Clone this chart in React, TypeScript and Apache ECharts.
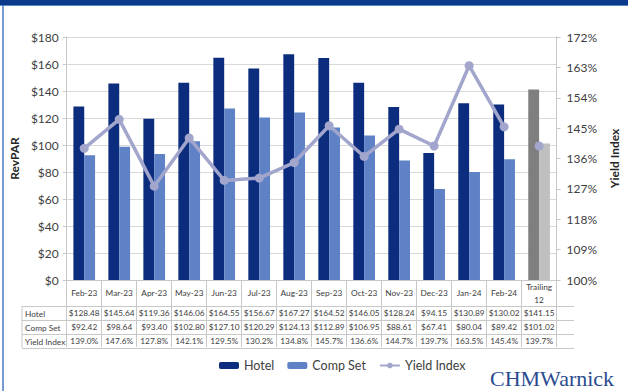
import React, { useEffect, useRef } from "react";
import * as echarts from "echarts";

const categories = ["Feb-23", "Mar-23", "Apr-23", "May-23", "Jun-23", "Jul-23", "Aug-23", "Sep-23", "Oct-23", "Nov-23", "Dec-23", "Jan-24", "Feb-24", "Trailing 12"];
const hotel = [128.48, 145.64, 119.36, 146.06, 164.55, 156.67, 167.27, 164.52, 146.05, 128.24, 94.15, 130.89, 130.02, 141.15];
const compSet = [92.42, 98.64, 93.4, 102.8, 127.1, 120.29, 124.13, 112.89, 106.95, 88.61, 67.41, 80.04, 89.42, 101.02];
const yieldIndex = [139.0, 147.6, 127.8, 142.1, 129.5, 130.2, 134.8, 145.7, 136.6, 144.7, 139.7, 163.5, 145.4, 139.7];
const rowLabels = ["Hotel", "Comp Set", "Yield Index"];

const YIELD_BASE = 100;
const GRID_LEFT = 65;
const GRID_RIGHT = 54;
const GRID_TOP = 37;
const GRID_BOTTOM_Y = 280;
const W = 628;
const H = 391;

const FONT = "Lato, 'Open Sans', sans-serif";
const TEXT = "#404040";
const LINE = "#c8c8c8";
const TBL = 8.3;

export default function App() {
  const ref = useRef<HTMLDivElement>(null);
  useEffect(() => {
    if (!ref.current) return;
    const chart = echarts.init(ref.current, null, { renderer: "svg" });
    const last = categories.length - 1;
    const hotelData = hotel.map((v, i) =>
      i === last ? { value: v, itemStyle: { color: "#7f7f7f" } } : v
    );
    const compData = compSet.map((v, i) =>
      i === last ? { value: v, itemStyle: { color: "#bfbfbf" } } : v
    );
    const lineData = yieldIndex.map((v, i) => (i === last ? "-" : +(v - YIELD_BASE).toFixed(2)));
    const trailingData = yieldIndex.map((v, i) => (i === last ? +(v - YIELD_BASE).toFixed(2) : "-"));

    const rowTop = GRID_BOTTOM_Y + 26;
    const rowH = 14;
    const tableLeft = 22;
    const tableRight = W - GRID_RIGHT;
    const graphics: any[] = [
      { type: "rect", shape: { x: 0, y: 0, width: W, height: 5 }, style: { fill: "#0b3a8a" } },
      { type: "line", shape: { x1: 0, y1: 5.5, x2: W, y2: 5.5 }, style: { stroke: "#5d86c9", lineWidth: 1 } },
      { type: "line", shape: { x1: 3, y1: 5, x2: 3, y2: H }, style: { stroke: "#4a78c0", lineWidth: 1.5 } },
      { type: "line", shape: { x1: tableLeft, y1: rowTop, x2: tableLeft, y2: rowTop + rowH * 3 }, style: { stroke: LINE, lineWidth: 1 } },
    ];
    for (let r = 0; r <= 3; r++) {
      const y = rowTop + r * rowH + 0.5;
      graphics.push({ type: "line", shape: { x1: tableLeft, y1: y, x2: tableRight, y2: y }, style: { stroke: LINE, lineWidth: 1 } });
    }
    rowLabels.forEach((t, r) => {
      graphics.push({
        type: "text",
        x: tableLeft + 3,
        y: rowTop + r * rowH + rowH / 2 + 0.5,
        style: { text: t, fill: TEXT, font: `${TBL}px ${FONT}`, verticalAlign: "middle", align: "left" },
      });
    });
    graphics.push({
      type: "text",
      x: 490,
      y: 378,
      style: {
        text: "CHMWarnick",
        fill: "#2b4b8f",
        font: "22px 'Liberation Serif', 'DejaVu Serif', serif",
        verticalAlign: "middle",
        align: "left",
      },
    });

    chart.setOption({
      animation: false,
      backgroundColor: "#ffffff",
      textStyle: { fontFamily: FONT },
      grid: { left: GRID_LEFT, right: GRID_RIGHT, top: GRID_TOP, bottom: H - GRID_BOTTOM_Y, containLabel: false },
      legend: {
        data: ["Hotel", "Comp Set", "Yield Index"],
        left: 214,
        top: 354,
        itemWidth: 20,
        itemHeight: 7,
        itemGap: 13,
        textStyle: { color: TEXT, fontSize: 12.5, fontFamily: FONT },
      },
      xAxis: {
        type: "category",
        data: categories,
        axisLine: { show: true, lineStyle: { color: LINE } },
        axisTick: { show: true, length: 67, lineStyle: { color: LINE } },
        axisLabel: {
          interval: 0,
          margin: 0,
          color: TEXT,
          fontFamily: FONT,
          fontSize: TBL,
          formatter: (value: string, idx: number) => {
            const head = value.indexOf(" ") > 0
              ? value.split(" ").map((p) => `{h2|${p}}`).join("\n")
              : `{h|${value}}`;
            return [
              head,
              `{v|$${hotel[idx].toFixed(2)}}`,
              `{v|$${compSet[idx].toFixed(2)}}`,
              `{v|${yieldIndex[idx].toFixed(1)}%}`,
            ].join("\n");
          },
          rich: {
            h: { lineHeight: 26, fontSize: TBL, color: TEXT, fontFamily: FONT },
            h2: { lineHeight: 13, fontSize: TBL, color: TEXT, fontFamily: FONT },
            v: { lineHeight: 14, fontSize: TBL, color: TEXT, fontFamily: FONT },
          },
        },
      },
      yAxis: [
        {
          type: "value",
          min: 0,
          max: 180,
          interval: 20,
          name: "RevPAR",
          nameLocation: "middle",
          nameRotate: 90,
          nameGap: 46,
          nameTextStyle: { color: "#262626", fontSize: 12, fontWeight: "bold", fontFamily: FONT },
          axisLine: { show: true, lineStyle: { color: LINE } },
          axisTick: { show: true, length: 4, lineStyle: { color: LINE } },
          axisLabel: { color: TEXT, fontSize: 12, margin: 8, formatter: (v: number) => `$${v}` },
          splitLine: { lineStyle: { color: "#d9d9d9" } },
        },
        {
          type: "value",
          min: 0,
          max: 72,
          interval: 9,
          name: "Yield Index",
          nameLocation: "middle",
          nameRotate: 90,
          nameGap: 40,
          nameTextStyle: { color: "#262626", fontSize: 12, fontWeight: "bold", fontFamily: FONT },
          axisLine: { show: true, lineStyle: { color: LINE } },
          axisTick: { show: true, length: 4, lineStyle: { color: LINE } },
          axisLabel: { color: TEXT, fontSize: 12, margin: 10, formatter: (v: number) => `${v + YIELD_BASE}%` },
          splitLine: { show: false },
        },
      ],
      series: [
        {
          name: "Hotel",
          type: "bar",
          data: hotelData,
          barGap: "0%",
          barCategoryGap: "38%",
          itemStyle: { color: "#0c2d7e" },
        },
        {
          name: "Comp Set",
          type: "bar",
          data: compData,
          itemStyle: { color: "#5f82c6" },
        },
        {
          name: "Yield Index",
          type: "line",
          yAxisIndex: 1,
          data: lineData,
          symbol: "circle",
          symbolSize: 9,
          lineStyle: { color: "#a3a6cc", width: 3.5 },
          itemStyle: { color: "#a3a6cc" },
          z: 5,
        },
        {
          name: "Yield Index",
          type: "line",
          yAxisIndex: 1,
          data: trailingData,
          symbol: "circle",
          symbolSize: 9,
          showSymbol: true,
          lineStyle: { color: "#a3a6cc", width: 3.5 },
          itemStyle: { color: "#a3a6cc" },
          z: 5,
        },
      ],
      graphic: graphics,
    });
    return () => chart.dispose();
  }, []);
  return (
    <div
      ref={ref}
      style={{ position: "fixed", left: 0, top: 0, width: W, height: H, background: "#fff" }}
    />
  );
}
